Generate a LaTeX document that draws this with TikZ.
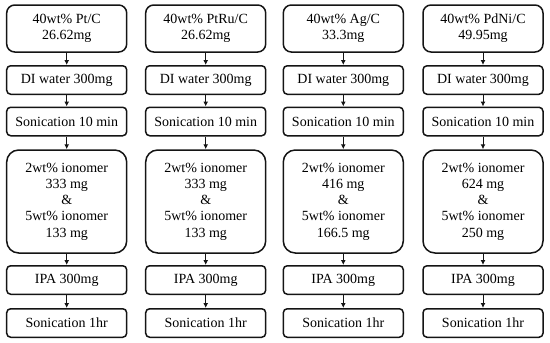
\documentclass[tikz,border=0pt]{standalone}
\usepackage{fontspec}
\setmainfont{Liberation Serif}
\usepackage{xcolor}
\definecolor{InkBlack}{RGB}{20, 20, 20}
\usetikzlibrary{
    arrows.meta,
    positioning
    }
\tikzset{
    stepbox/.style={draw=InkBlack, line width=1.5pt, minimum width=120pt, align=center, inner sep=0pt, font=\fontsize{14}{16.3}\selectfont},
    headbox/.style={stepbox, rounded corners=8pt, minimum height=47pt},
    smallbox/.style={stepbox, rounded corners=4pt, minimum height=28.5pt},
    mixbox/.style={stepbox, rounded corners=12pt, minimum height=103pt},
    flow/.style={draw=InkBlack, line width=1pt, -{Latex[length=5pt,width=5pt]}}
}

\begin{document}
\begin{tikzpicture}[x=1pt, y=1pt]

    \useasboundingbox (0,0) rectangle (550,-343);

    %Pt/C
    \node[headbox] (ptA) at (66.7,-28.5) {40wt\% Pt/C\\26.62mg};
    \node[smallbox] (ptB) at (66.7,-80) {DI water 300mg};
    \node[smallbox] (ptC) at (66.7,-121.5) {Sonication 10 min};
    \node[mixbox] (ptD) at (66.7,-201.5) {2wt\% ionomer\\333 mg\\\&\\5wt\% ionomer\\133 mg};
    \node[smallbox] (ptE) at (66.7,-280) {IPA 300mg};
    \node[smallbox] (ptF) at (66.7,-323) {Sonication 1hr};
    \draw[flow] (ptA) -- (ptB);
    \draw[flow] (ptB) -- (ptC);
    \draw[flow] (ptC) -- (ptD);
    \draw[flow] (ptD) -- (ptE);
    \draw[flow] (ptE) -- (ptF);

    %PtRu/C
    \node[headbox] (ptruA) at (205.7,-28.5) {40wt\% PtRu/C\\26.62mg};
    \node[smallbox] (ptruB) at (205.7,-80) {DI water 300mg};
    \node[smallbox] (ptruC) at (205.7,-121.5) {Sonication 10 min};
    \node[mixbox] (ptruD) at (205.7,-201.5) {2wt\% ionomer\\333 mg\\\&\\5wt\% ionomer\\133 mg};
    \node[smallbox] (ptruE) at (205.7,-280) {IPA 300mg};
    \node[smallbox] (ptruF) at (205.7,-323) {Sonication 1hr};
    \draw[flow] (ptruA) -- (ptruB);
    \draw[flow] (ptruB) -- (ptruC);
    \draw[flow] (ptruC) -- (ptruD);
    \draw[flow] (ptruD) -- (ptruE);
    \draw[flow] (ptruE) -- (ptruF);

    %Ag/C
    \node[headbox] (agA) at (343.3,-28.5) {40wt\% Ag/C\\33.3mg};
    \node[smallbox] (agB) at (343.3,-80) {DI water 300mg};
    \node[smallbox] (agC) at (343.3,-121.5) {Sonication 10 min};
    \node[mixbox] (agD) at (343.3,-201.5) {2wt\% ionomer\\416 mg\\\&\\5wt\% ionomer\\166.5 mg};
    \node[smallbox] (agE) at (343.3,-280) {IPA 300mg};
    \node[smallbox] (agF) at (343.3,-323) {Sonication 1hr};
    \draw[flow] (agA) -- (agB);
    \draw[flow] (agB) -- (agC);
    \draw[flow] (agC) -- (agD);
    \draw[flow] (agD) -- (agE);
    \draw[flow] (agE) -- (agF);

    %PdNi/C
    \node[headbox] (pdniA) at (483,-28.5) {40wt\% PdNi/C\\49.95mg};
    \node[smallbox] (pdniB) at (483,-80) {DI water 300mg};
    \node[smallbox] (pdniC) at (483,-121.5) {Sonication 10 min};
    \node[mixbox] (pdniD) at (483,-201.5) {2wt\% ionomer\\624 mg\\\&\\5wt\% ionomer\\250 mg};
    \node[smallbox] (pdniE) at (483,-280) {IPA 300mg};
    \node[smallbox] (pdniF) at (483,-323) {Sonication 1hr};
    \draw[flow] (pdniA) -- (pdniB);
    \draw[flow] (pdniB) -- (pdniC);
    \draw[flow] (pdniC) -- (pdniD);
    \draw[flow] (pdniD) -- (pdniE);
    \draw[flow] (pdniE) -- (pdniF);

\end{tikzpicture}
\end{document}
